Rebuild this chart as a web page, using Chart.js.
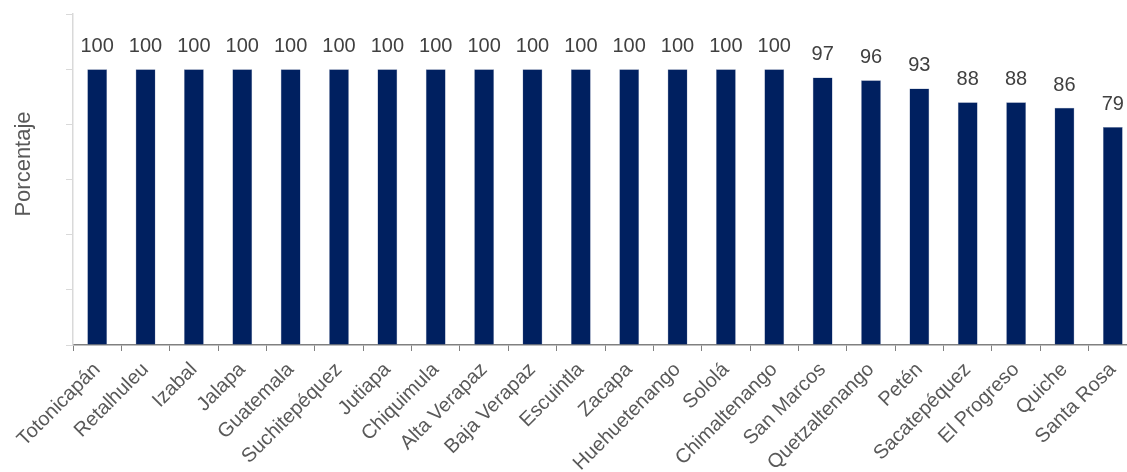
<!DOCTYPE html>
<html>
<head>
<meta charset="utf-8">
<script src="https://cdn.jsdelivr.net/npm/chart.js@4/dist/chart.umd.min.js"></script>
<style>
	html, body { margin: 0; padding: 0; background: #fff; overflow: hidden; }
	.wrap { width: 1137px; height: 472px; }
</style>
</head>
<body>
<div class="wrap"><canvas id="chart"></canvas></div>
<script>
const departamentos = [
	'Totonicapán', 'Retalhuleu', 'Izabal', 'Jalapa', 'Guatemala', 'Suchitepéquez',
	'Jutiapa', 'Chiquimula', 'Alta Verapaz', 'Baja Verapaz', 'Escuintla', 'Zacapa',
	'Huehuetenango', 'Sololá', 'Chimaltenango', 'San Marcos', 'Quetzaltenango',
	'Petén', 'Sacatepéquez', 'El Progreso', 'Quiche', 'Santa Rosa',
]
const porcentajes = [
	100, 100, 100, 100, 100, 100, 100, 100, 100, 100, 100, 100, 100, 100, 100,
	97, 96, 93, 88, 88, 86, 79,
]
const yTicks = [0, 20, 40, 60, 80, 100, 120]
const yTitle = 'Porcentaje'

const fontFamily = '"Liberation Sans", Arial, sans-serif'

// valores encima de cada barra + titulo del eje y
const valueLabels = {
	id: 'valueLabels',
	afterDatasetsDraw(chart) {
		const ctx = chart.ctx
		const meta = chart.getDatasetMeta(0)
		ctx.save()
		ctx.font = '20px ' + fontFamily
		ctx.fillStyle = '#404040'
		ctx.textAlign = 'center'
		ctx.textBaseline = 'alphabetic'
		meta.data.forEach((bar, i) => {
			ctx.fillText(String(porcentajes[i]), bar.x, bar.y - 17)
		})

		ctx.translate(24, 164)
		ctx.rotate(-Math.PI / 2)
		ctx.font = '22px ' + fontFamily
		ctx.fillStyle = '#595959'
		ctx.textBaseline = 'middle'
		ctx.fillText(yTitle, 0, 0)
		ctx.restore()
	},
}

const canvaRef = document.querySelector('#chart')

const chart = new Chart(canvaRef, {
	type: 'bar',
	data: {
		labels: departamentos,
		datasets: [
			{
				data: porcentajes,
				backgroundColor: '#002060',
				borderColor: '#8090b0',
				borderWidth: 0.5,
				barPercentage: 0.41,
				categoryPercentage: 1,
			},
		],
	},
	options: {
		responsive: true,
		maintainAspectRatio: false,
		animation: false,
		layout: { padding: { top: 14, left: 0, right: 0, bottom: 0 } },
		plugins: {
			legend: { display: false },
			tooltip: { enabled: false },
		},
		scales: {
			x: {
				offset: true,
				afterFit(scale) {
					scale.height = 127
				},
				grid: {
					offset: true,
					drawOnChartArea: false,
					drawTicks: true,
					tickLength: 6,
					color: '#808080',
				},
				border: { color: '#808080', width: 1.5 },
				ticks: {
					minRotation: 45,
					maxRotation: 45,
					autoSkip: false,
					padding: 7,
					color: '#595959',
					font: { size: 20, family: fontFamily },
				},
			},
			y: {
				min: 0,
				max: 120,
				afterFit(scale) {
					scale.width = 73
				},
				afterBuildTicks(scale) {
					scale.ticks = yTicks.map(v => ({ value: v }))
				},
				grid: {
					drawOnChartArea: false,
					drawTicks: true,
					tickLength: 7,
					color: '#d9d9d9',
				},
				border: { color: '#d9d9d9', width: 1.5 },
				ticks: { display: false },
			},
		},
	},
	plugins: [valueLabels],
})
</script>
</body>
</html>
